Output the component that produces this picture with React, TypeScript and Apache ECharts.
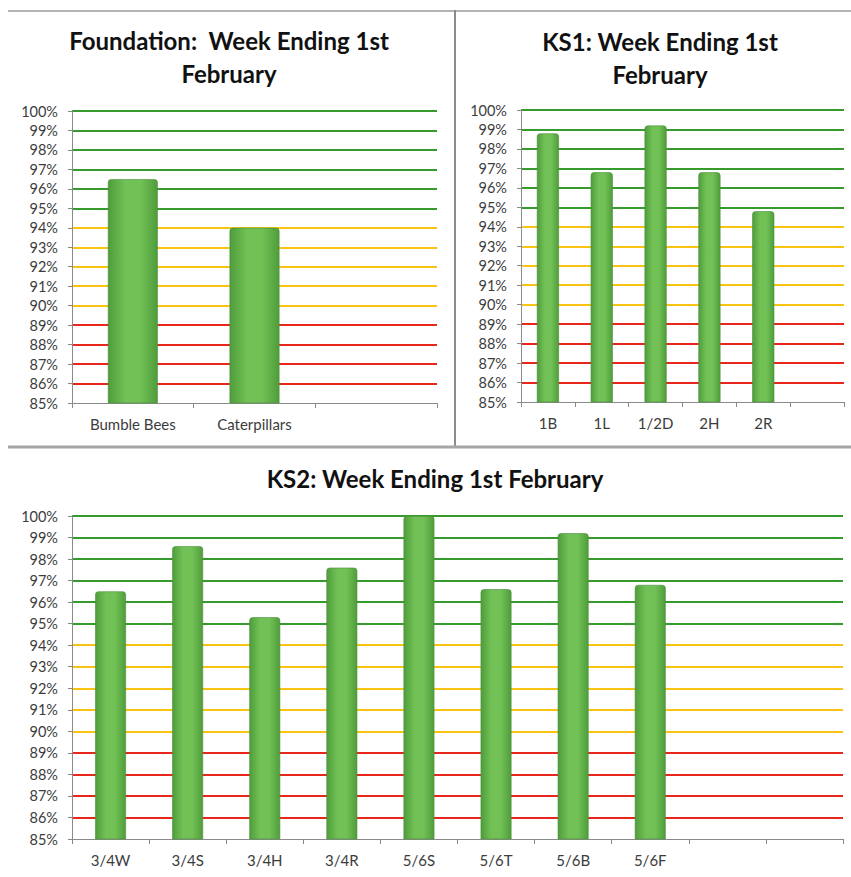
import React, { useEffect, useRef } from "react";
import * as echarts from "echarts";

const yMin = 85;
const yMax = 100;

const foundationCategories = ["Bumble Bees", "Caterpillars", ""];
const foundationValues = [96.5, 94.0, null];

const ks1Categories = ["1B", "1L", "1/2D", "2H", "2R", ""];
const ks1Values = [98.8, 96.8, 99.2, 96.8, 94.8, null];

const ks2Categories = ["3/4W", "3/4S", "3/4H", "3/4R", "5/6S", "5/6T", "5/6B", "5/6F", "", ""];
const ks2Values = [96.5, 98.6, 95.3, 97.6, 100, 96.6, 99.2, 96.8, null, null];

const titles = [
  ["Foundation:  Week Ending 1st", "February"],
  ["KS1: Week Ending 1st", "February"],
  ["KS2: Week Ending 1st February"],
];

const RED = "#e8261c";
const YELLOW = "#f9c311";
const GREEN = "#379a2c";

function gridColors(): string[] {
  const c: string[] = [];
  for (let v = yMin; v <= yMax; v++) {
    if (v === yMin) c.push("rgba(0,0,0,0)");
    else if (v <= 89) c.push(RED);
    else if (v <= 94) c.push(YELLOW);
    else c.push(GREEN);
  }
  return c;
}

const labelColor = "#3c3c3c";
const axisGray = "#8a8a8a";
const FONT = "Lato";

function yAxisFor(gridIndex: number) {
  return {
    type: "value",
    gridIndex,
    min: yMin,
    max: yMax,
    interval: 1,
    axisLine: { show: true, lineStyle: { color: axisGray, width: 1 } },
    axisTick: { show: true, length: 4, lineStyle: { color: axisGray } },
    axisLabel: {
      formatter: "{value}%",
      color: labelColor,
      fontFamily: FONT,
      fontSize: 14.5,
      margin: 14,
    },
    splitLine: {
      show: true,
      showMinLine: true,
      showMaxLine: true,
      lineStyle: { color: gridColors(), width: 2 },
    },
  };
}

function xAxisFor(gridIndex: number, data: string[]) {
  return {
    type: "category",
    gridIndex,
    data,
    axisLine: { show: true, lineStyle: { color: axisGray, width: 1 } },
    axisTick: { show: true, length: 5, lineStyle: { color: axisGray } },
    axisLabel: {
      color: labelColor,
      fontFamily: FONT,
      fontSize: 15,
      margin: 13,
      interval: 0,
    },
    splitLine: { show: false },
  };
}

const barColor = new echarts.graphic.LinearGradient(0, 0, 1, 0, [
  { offset: 0, color: "#4e9d3b" },
  { offset: 0.35, color: "#72c156" },
  { offset: 0.65, color: "#72c156" },
  { offset: 1, color: "#4e9d3b" },
]);

function barSeries(idx: number, data: (number | null)[], width: string) {
  return {
    type: "bar",
    xAxisIndex: idx,
    yAxisIndex: idx,
    data,
    barWidth: width,
    itemStyle: {
      color: barColor,
      borderColor: "#4a8f3a",
      borderWidth: 0.6,
      borderRadius: [3, 3, 0, 0],
    },
    z: 3,
  };
}

function titleText(x: number, y: number, text: string) {
  return {
    type: "text",
    x,
    y,
    z: 10,
    style: {
      text,
      fill: "#111111",
      font: `bold 24px ${FONT}`,
      textAlign: "center",
      textVerticalAlign: "middle",
      align: "center",
      verticalAlign: "middle",
    },
  };
}

export default function App() {
  const ref = useRef<HTMLDivElement>(null);
  useEffect(() => {
    if (!ref.current) return;
    const chart = echarts.init(ref.current, undefined, { renderer: "svg" });
    chart.setOption({
      animation: false,
      backgroundColor: "#ffffff",
      grid: [
        { left: 72, top: 111, width: 365, height: 292 },
        { left: 521, top: 110, width: 323, height: 292 },
        { left: 72, top: 516, width: 771, height: 323 },
      ],
      xAxis: [
        xAxisFor(0, foundationCategories),
        xAxisFor(1, ks1Categories),
        xAxisFor(2, ks2Categories),
      ],
      yAxis: [yAxisFor(0), yAxisFor(1), yAxisFor(2)],
      series: [
        barSeries(0, foundationValues, "41%"),
        barSeries(1, ks1Values, "41%"),
        barSeries(2, ks2Values, "40%"),
      ],
      graphic: [
        { type: "line", shape: { x1: 8, y1: 11, x2: 851, y2: 11 }, style: { stroke: "#b4b4b4", lineWidth: 2 } },
        { type: "line", shape: { x1: 455, y1: 10, x2: 455, y2: 447 }, style: { stroke: "#8c8c8c", lineWidth: 2 } },
        { type: "line", shape: { x1: 8, y1: 447, x2: 851, y2: 447 }, style: { stroke: "#a6a6a6", lineWidth: 3 } },
        titleText(229, 40, titles[0][0]),
        titleText(229, 73, titles[0][1]),
        titleText(660, 41, titles[1][0]),
        titleText(660, 74, titles[1][1]),
        titleText(435, 478, titles[2][0]),
      ],
    });
    return () => chart.dispose();
  }, []);
  return (
    <div
      ref={ref}
      style={{ position: "absolute", left: 0, top: 0, width: 851, height: 877 }}
    />
  );
}
